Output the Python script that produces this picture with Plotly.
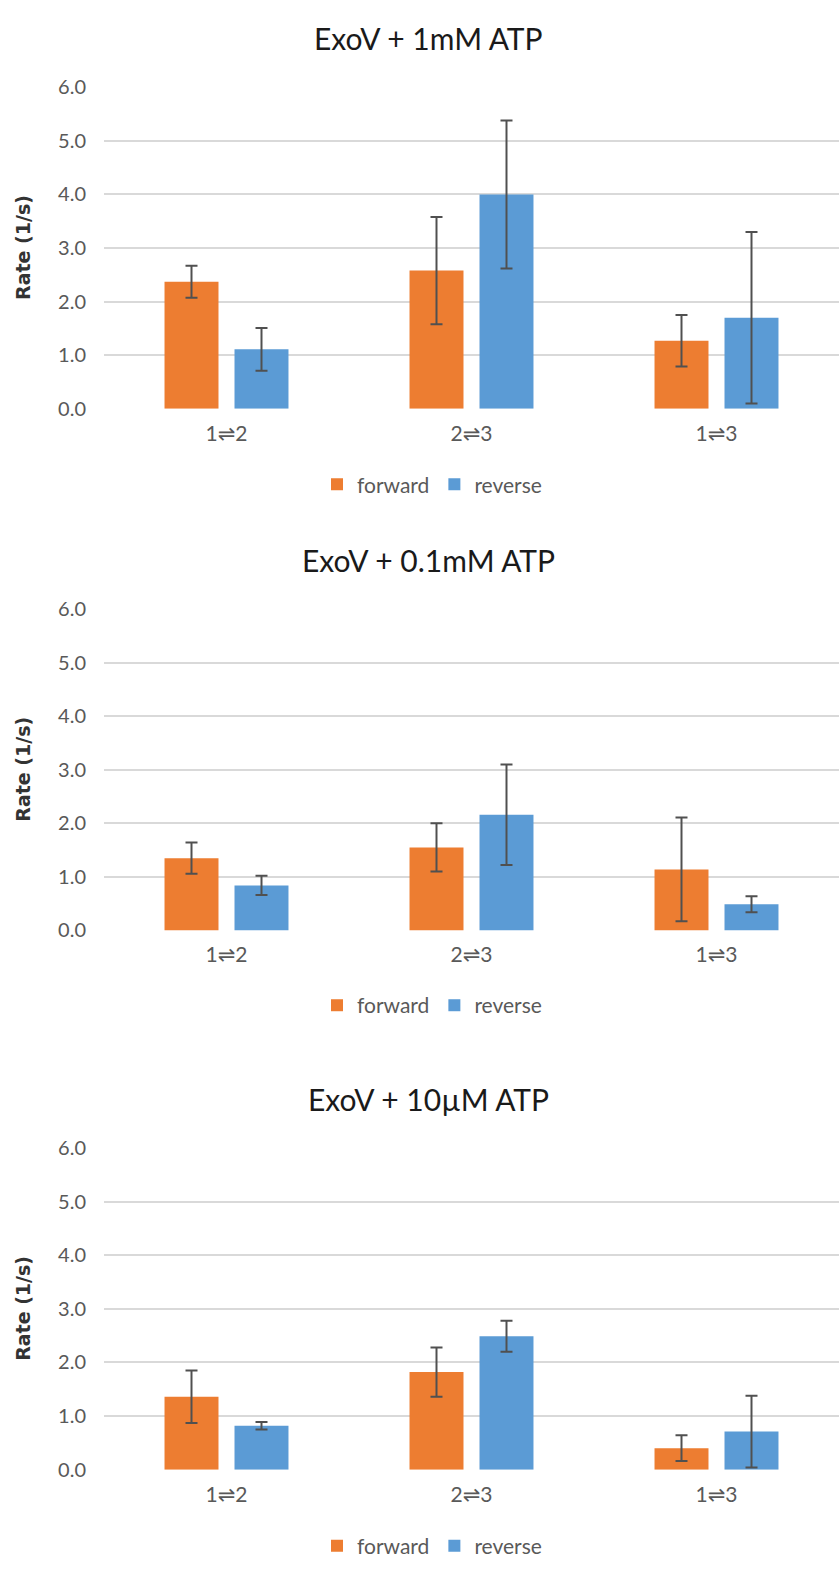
import plotly.graph_objects as go

# Transitions between states
categories = ["1⇌2", "2⇌3", "1⇌3"]

# ExoV + 1mM ATP
rate_1mM_forward = [2.37, 2.58, 1.27]
err_1mM_forward = [0.30, 1.00, 0.48]
rate_1mM_reverse = [1.11, 4.00, 1.70]
err_1mM_reverse = [0.40, 1.38, 1.60]

# ExoV + 0.1mM ATP
rate_01mM_forward = [1.35, 1.55, 1.14]
err_01mM_forward = [0.29, 0.45, 0.97]
rate_01mM_reverse = [0.84, 2.16, 0.49]
err_01mM_reverse = [0.18, 0.94, 0.15]

# ExoV + 10µM ATP
rate_10uM_forward = [1.36, 1.82, 0.40]
err_10uM_forward = [0.49, 0.46, 0.24]
rate_10uM_reverse = [0.82, 2.49, 0.71]
err_10uM_reverse = [0.07, 0.29, 0.67]

titles = ["ExoV + 1mM ATP", "ExoV + 0.1mM ATP", "ExoV + 10µM ATP"]
y_ticks = [0, 1, 2, 3, 4, 5, 6]

panels = [
    (rate_1mM_forward, err_1mM_forward, rate_1mM_reverse, err_1mM_reverse),
    (rate_01mM_forward, err_01mM_forward, rate_01mM_reverse, err_01mM_reverse),
    (rate_10uM_forward, err_10uM_forward, rate_10uM_reverse, err_10uM_reverse),
]

W, H = 839, 1569
ORANGE = "#ED7D31"
BLUE = "#5B9BD5"
ERR = "#505050"
GRID = "#D9D9D9"
TEXT = "#595959"
FONT = "Lato, 'DejaVu Sans', sans-serif"

# pixel layout of each panel: (zero line, top gridline, title, legend)
panel_px = [
    (402.0, 75.3, 25, 479),
    (931.7, 605.3, 555, 1008),
    (1479.3, 1152.7, 1103, 1557),
]

def py(v):
    return 1 - v / H

fig = go.Figure()
annotations = []
layout = {}

for i, (fw, fe, rv, re_) in enumerate(panels):
    n = "" if i == 0 else str(i + 1)
    xa, ya = "x" + n, "y" + n
    lg = "legend" + n
    fig.add_trace(go.Bar(
        x=categories, y=fw, name="forward", marker=dict(color=ORANGE, line=dict(width=0)),
        error_y=dict(type="data", array=fe, visible=True, color=ERR, thickness=2, width=6),
        xaxis=xa, yaxis=ya, legend=lg,
    ))
    fig.add_trace(go.Bar(
        x=categories, y=rv, name="reverse", marker=dict(color=BLUE, line=dict(width=0)),
        error_y=dict(type="data", array=re_, visible=True, color=ERR, thickness=2, width=6),
        xaxis=xa, yaxis=ya, legend=lg,
    ))
    zero, top, ttl, leg = panel_px[i]
    layout["xaxis" + n] = dict(
        domain=[104 / W, 1], anchor=ya, showgrid=False, showline=False, zeroline=False,
        ticks="", tickfont=dict(family=FONT, size=21, color=TEXT), ticklabelstandoff=10,
        fixedrange=True,
    )
    layout["yaxis" + n] = dict(
        domain=[py(zero), py(top)], anchor=xa, range=[0, 6], tickvals=y_ticks,
        tickformat=".1f", showgrid=True, gridcolor=GRID, gridwidth=1.5,
        zeroline=False, showline=False, ticks="", ticklabelstandoff=17,
        tickfont=dict(family=FONT, size=20, color=TEXT), fixedrange=True,
    )
    layout[lg] = dict(
        orientation="h", x=432 / W, xanchor="center", y=py(leg), yanchor="middle",
        font=dict(family=FONT, size=21, color=TEXT), bgcolor="rgba(0,0,0,0)",
        itemwidth=30, traceorder="normal",
    )
    annotations.append(dict(
        text=titles[i], x=428 / W, y=py(ttl), xref="paper", yref="paper",
        xanchor="center", yanchor="middle", showarrow=False,
        font=dict(family=FONT, size=30, color="#1a1a1a"),
    ))
    annotations.append(dict(
        text="Rate (1/s)", x=23 / W, y=py((zero + top) / 2), xref="paper", yref="paper",
        xanchor="center", yanchor="middle", showarrow=False, textangle=-90,
        font=dict(family="'DejaVu Sans', sans-serif", size=19, color="#333333", weight="bold"),
    ))

fig.update_layout(
    width=W, height=H, margin=dict(l=0, r=0, t=0, b=0),
    paper_bgcolor="white", plot_bgcolor="white",
    barmode="group", bargap=0.4286, bargroupgap=0.229,
    annotations=annotations, **layout,
)

fig.write_html("out.html", config={"displayModeBar": False})
